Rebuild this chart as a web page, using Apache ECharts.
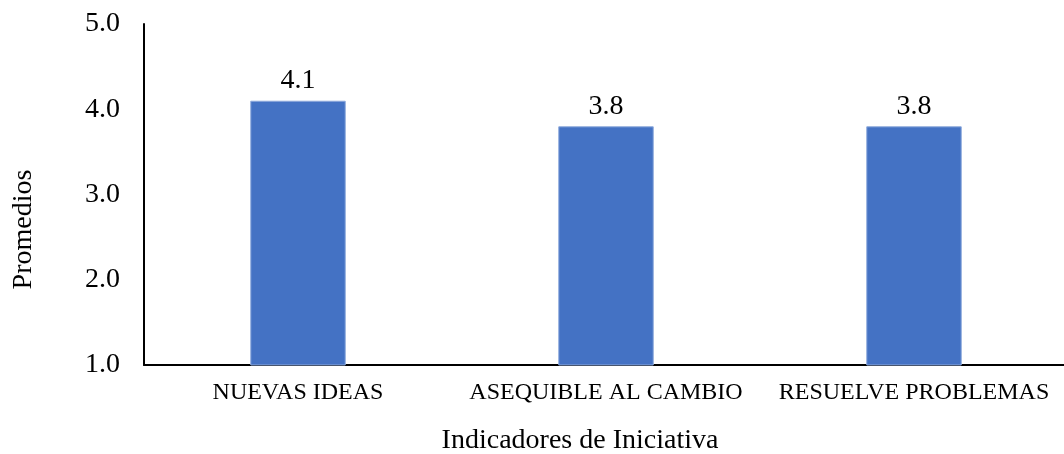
<!DOCTYPE html>
<html>
<head>
<meta charset="utf-8">
<script src="https://cdn.jsdelivr.net/npm/echarts@6/dist/echarts.min.js"></script>
<style>
  html, body { margin: 0; padding: 0; background: #fff; }
  #chart { width: 1064px; height: 454px; }
</style>
</head>
<body>
<div id="chart"></div>
<script>
var categories = ['NUEVAS IDEAS', 'ASEQUIBLE AL CAMBIO', 'RESUELVE PROBLEMAS']
var promedios = [4.1, 3.8, 3.8]
var yTicks = [1, 2, 3, 4, 5]

var serif = '"Liberation Serif", "Times New Roman", serif'

var chart = echarts.init(document.getElementById('chart'))
chart.setOption({
  animation: false,
  textStyle: { fontFamily: serif, color: '#000' },
  grid: {
    left: 144,
    right: -4,
    top: 24,
    bottom: 89,
    outerBoundsMode: 'none',
    containLabel: false
  },
  xAxis: {
    type: 'category',
    data: categories,
    name: 'Indicadores de Iniciativa',
    nameLocation: 'middle',
    nameGap: 62,
    nameTextStyle: { fontFamily: serif, fontSize: 28, color: '#000', padding: [0, 52, 0, 0] },
    axisLine: { lineStyle: { color: '#000', width: 2 } },
    axisTick: { show: false },
    axisLabel: { interval: 0, fontFamily: serif, fontSize: 24, color: '#000', margin: 16 }
  },
  yAxis: {
    type: 'value',
    min: yTicks[0],
    max: yTicks[yTicks.length - 1],
    interval: 1,
    name: 'Promedios',
    nameLocation: 'middle',
    nameGap: 106,
    nameTextStyle: { fontFamily: serif, fontSize: 28, color: '#000', padding: [0, 70, 0, 0] },
    axisLine: { show: true, lineStyle: { color: '#000', width: 2 } },
    axisTick: { show: false },
    splitLine: { show: false },
    axisLabel: {
      fontFamily: serif,
      fontSize: 28,
      color: '#000',
      margin: 24,
      padding: [7, 0, 0, 0],
      formatter: function (v) { return v.toFixed(1) }
    }
  },
  series: [
    {
      type: 'bar',
      data: promedios,
      barWidth: '31%',
      itemStyle: { color: '#4472C4', borderColor: '#8eaadc', borderWidth: 1 },
      label: {
        show: true,
        position: 'top',
        distance: 6,
        fontFamily: serif,
        fontSize: 28,
        color: '#000',
        formatter: function (p) { return p.value.toFixed(1) }
      }
    }
  ]
})
</script>
</body>
</html>
